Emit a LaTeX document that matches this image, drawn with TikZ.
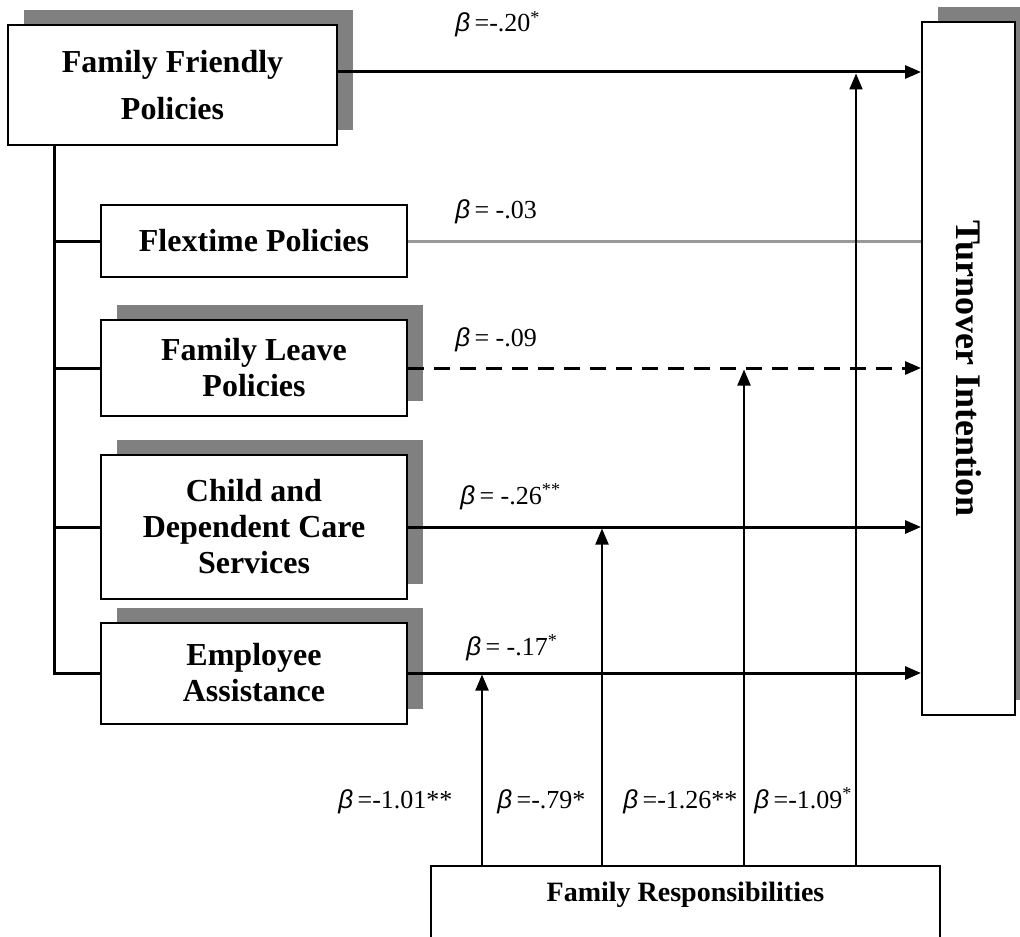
\documentclass[tikz,border=0pt]{standalone}
\usepackage{fontspec}
\setmainfont{Liberation Serif}
\newfontfamily\betafont{Liberation Sans}
\usetikzlibrary{arrows.meta, shadows}

\newcommand{\B}{{\betafont\itshape β}\,}

\begin{document}
\begin{tikzpicture}[x=0.5pt, y=-0.5pt]
	\tikzset {>={Triangle[length=8pt,width=6.5pt]}, 
		box/.style={draw, line width=1pt, fill=white, align=center, inner sep=0pt, font=\fontsize{16}{18}\selectfont\bfseries},
		shbox/.style={box, drop shadow={shadow xshift=8pt, shadow yshift=7.5pt, fill=gray, opacity=1}},
		coef/.style={inner sep=0pt, anchor=base west, font=\fontsize{13}{15}\selectfont},
		link/.style={line width=1.5pt},
		mod/.style={line width=1pt, shorten >=0.75pt} }
	\useasboundingbox (0,0) rectangle (1020,936);

	% predictors
	\node[shbox, minimum width=164.5pt, minimum height=60pt, font=\fontsize{16}{23.5}\selectfont\bfseries] (ffp) at (172.5,85) {Family Friendly\\Policies};
	\node[box, minimum width=153pt, minimum height=36pt] (flex) at (254,241) {Flextime Policies};
	\node[shbox, minimum width=153pt, minimum height=48pt] (leave) at (254,368) {Family Leave\\Policies};
	\node[shbox, minimum width=153pt, minimum height=72pt] (child) at (254,527) {Child and\\Dependent Care\\Services};
	\node[shbox, minimum width=153pt, minimum height=50.5pt] (emp) at (254,673) {Employee\\Assistance};

	% outcome and moderator
	\node[shbox, minimum width=46.5pt, minimum height=346.5pt, font=\fontsize{18}{20}\selectfont\bfseries] (turn) at (968.5,368.5) {\rotatebox{-90}{Turnover Intention}};
	\node[box, anchor=north, minimum width=254.5pt, inner ysep=7.5pt, text height=10pt, text depth=45pt, font=\fontsize{14}{16}\selectfont\bfseries] (fr) at (685.5,865) {Family Responsibilities};

	% tree on the left
	\coordinate (trunk) at ([xshift=23.5pt]ffp.south west);
	\draw[link] (trunk) |- (emp.west);
	\foreach \n in {flex,leave,child}
		\draw[link] (\n.west) -- (\n.west -| trunk);

	% main effects
	\coordinate (fstart) at ([yshift=6.5pt]ffp.east);
	\draw[link,->] (fstart) -- (fstart -| turn.west);
	\draw[line width=1.5pt, black!40] (flex.east) -- (flex.east -| turn.west);
	\draw[link, dash pattern=on 8pt off 5pt, ->] (leave.east) -- (leave.east -| turn.west);
	\draw[link,->] (child.east) -- (child.east -| turn.west);
	\draw[link,->] (emp.east) -- (emp.east -| turn.west);

	% moderation
	\coordinate (m1) at (482,0);
	\coordinate (m2) at (602,0);
	\coordinate (m3) at (744,0);
	\coordinate (m4) at (856,0);
	\draw[mod,->] (fr.north -| m1) -- (emp.east -| m1);
	\draw[mod,->] (fr.north -| m2) -- (child.east -| m2);
	\draw[mod,->] (fr.north -| m3) -- (leave.east -| m3);
	\draw[mod,->] (fr.north -| m4) -- (fstart -| m4);

	% coefficients
	\node[coef] (c1) at (455,32) {\B=-.20\textsuperscript{*}};
	\node[coef] (c2) at (455,218) {\B= -.03};
	\node[coef] (c3) at (455,346) {\B= -.09};
	\node[coef] (c4) at (460,504) {\B= -.26\textsuperscript{**}};
	\node[coef] (c5) at (466,655) {\B= -.17\textsuperscript{*}};
	\node[coef] (c6) at (338,808) {\B=-1.01**};
	\node[coef] (c7) at (497,808) {\B=-.79*};
	\node[coef] (c8) at (623,808) {\B=-1.26**};
	\node[coef] (c9) at (754,808) {\B=-1.09\textsuperscript{*}};
\end{tikzpicture}
\end{document}
